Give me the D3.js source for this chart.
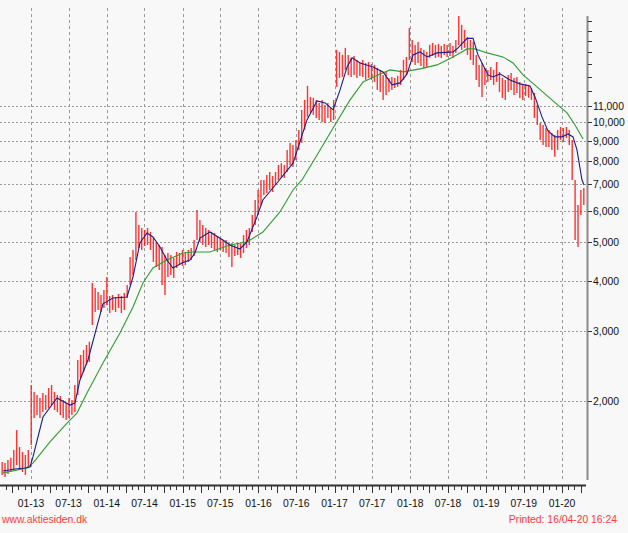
<!DOCTYPE html>
<html><head><meta charset="utf-8">
<script src="https://cdn.jsdelivr.net/npm/d3@7"></script>
<style>
html,body{margin:0;padding:0;background:#f8f8f8;}
svg{display:block;}
</style></head>
<body>
<svg id="chart" width="628" height="533"></svg>
<script>
// ---------- DATA ----------
const barStart = "2012-08-15";   // first bar, one bar every 14 days
const barStepDays = 14;
const highs = [1405,1397,1422,1440,1507,1691,1533,1489,1464,1507,
2194,2108,2071,2035,2096,2071,2156,2194,2108,2071,
2059,2012,1977,2035,2012,2194,2535,2609,2685,2764,
2817,3955,3842,3755,3690,3798,4095,3669,3690,3648,
3712,3669,3733,3909,4597,4786,5963,5531,5436,5373,
5436,5311,5130,5013,4926,4870,4650,4704,4650,4571,
4731,4704,4786,4731,4786,4842,5071,6032,5693,5531,
5436,5373,5311,5281,5190,5130,5071,5071,4984,4984,
4926,4984,4956,5220,5373,5436,5860,6391,6771,7173,
7173,7384,7514,7342,7514,7824,7904,7824,8534,8887,
8784,9042,9581,10754,11394,12355,11594,11528,11394,11199,
11394,11070,11199,10943,11394,15212,15036,14779,15390,14779,
14525,14694,14358,14192,14358,14110,14192,14030,13949,13710,
13551,13165,13396,12940,13014,12940,13090,13551,14358,14609,
17275,16117,15658,15930,15390,15212,15036,15658,15840,15658,
15750,15568,15750,15658,15840,15568,16117,18515,17577,17077,
16400,16117,15930,14779,13949,14110,13710,13551,13789,13551,
14192,13396,12940,12791,13165,13320,12940,13014,12644,12427,
12500,12427,12213,11866,11070,9975,9861,9691,9581,9415,
9307,9581,9747,9691,9747,9581,9042,7173,6209,6771,6849];
const lows = [1304,1289,1312,1327,1342,1382,1342,1327,1304,1358,
1551,1812,1844,1812,1876,1898,1920,1954,1898,1876,
1844,1812,1792,1812,1844,1876,2071,2284,2365,2463,
2506,3103,3345,3384,3345,3423,3483,3326,3384,3345,
3423,3326,3384,3627,3909,4142,4518,4842,4786,4898,
4926,4786,4466,4339,4263,3909,3690,4095,4142,4071,
4314,4389,4364,4389,4466,4518,4623,5071,5013,4926,
4870,4926,4842,4786,4731,4786,4731,4704,4597,4339,
4623,4650,4571,4704,4842,4926,5311,5531,5860,6209,
6578,6655,6771,6693,6969,7173,7257,7257,7514,7824,
7734,8042,8534,8887,9581,10328,10570,10448,10268,10150,
10033,9975,10268,10033,10150,12284,12940,13014,13551,13165,
13014,13165,12940,13090,13014,12791,12940,12791,12644,12073,
11934,11394,11729,11934,12073,12213,12284,12427,12791,13165,
14358,14192,13949,14110,13869,13710,13789,14525,14694,14525,
14609,14525,14779,14609,14694,14525,14950,15658,15212,15390,
14779,14358,13949,12791,12284,11594,12427,12644,12791,12427,
12644,11934,11528,11394,11934,12073,11729,11866,11528,11394,
11662,11528,11394,10268,9861,9042,8784,8683,8683,8534,
8208,8534,9042,8938,9147,8784,7173,5071,4870,5860,6209];

// short moving average (blue): [decimal year, value]
const shortMA = [[2012.631,1335],[2012.789,1350],[2012.921,1358],[2012.987,1366],[2013.026,1448],
[2013.158,1823],[2013.343,2035],[2013.514,1954],[2013.580,1977],[2013.646,2258],[2013.751,2535],
[2013.949,3507],[2014.081,3627],[2014.266,3648],[2014.345,4095],[2014.437,4984],[2014.529,5281],
[2014.608,5160],[2014.701,4870],[2014.793,4518],[2014.872,4314],[2014.991,4441],[2015.096,4518],
[2015.162,4704],[2015.228,5130],[2015.360,5311],[2015.531,5071],[2015.623,4926],[2015.755,4814],
[2015.847,5013],[2015.979,5792],[2016.058,6391],[2016.243,7050],[2016.454,7904],[2016.638,10150],
[2016.770,11330],[2016.876,11199],[2016.981,10754],[2017.073,12073],[2017.166,13789],[2017.231,14525],
[2017.337,14110],[2017.508,13789],[2017.640,13396],[2017.759,12427],[2017.864,12571],[2017.957,13242],
[2018.036,14779],[2018.128,15036],[2018.220,14609],[2018.352,14950],[2018.563,15036],[2018.629,15390],
[2018.748,16260],[2018.827,16260],[2018.892,14779],[2018.958,13949],[2019.024,13165],[2019.090,13014],
[2019.182,13242],[2019.314,12791],[2019.446,12500],[2019.578,12355],[2019.644,11594],[2019.736,10328],
[2019.815,9524],[2019.907,9200],[2020.000,9200],[2020.079,9361],[2020.145,9200],[2020.197,8534],
[2020.263,7173],[2020.290,6969]];

// long moving average (green): [decimal year, value]
const longMA = [[2012.631,1320],[2012.947,1358],[2013.026,1397],[2013.250,1579],[2013.475,1761],
[2013.606,1865],[2013.738,2096],[2013.949,2492],[2014.173,2963],[2014.345,3443],[2014.476,3955],
[2014.608,4314],[2014.793,4518],[2015.004,4704],[2015.136,4731],[2015.360,4731],[2015.623,4926],
[2015.847,5013],[2016.058,5311],[2016.282,5963],[2016.454,6771],[2016.572,7173],[2016.810,8534],
[2016.981,9691],[2017.205,11394],[2017.377,12644],[2017.601,13242],[2017.732,13551],[2017.904,13396],
[2018.128,13630],[2018.352,13949],[2018.563,14609],[2018.748,15300],[2018.853,15300],[2019.011,14950],
[2019.222,14609],[2019.354,14110],[2019.486,13165],[2019.670,12284],[2019.881,11330],[2020.066,10570],
[2020.171,9861],[2020.277,9095]];

const yLabelTicks = [2000,3000,4000,5000,6000,7000,8000,9000,10000,11000];
const yMinorTicks = [12000,13000,14000,15000,16000,17000,18000];
const xLabelDates = ["2013-01","2013-07","2014-01","2014-07","2015-01","2015-07","2016-01","2016-07",
  "2017-01","2017-07","2018-01","2018-07","2019-01","2019-07","2020-01"];
const siteText = "www.aktiesiden.dk";
const printedText = "Printed: 16/04-20 16:24";

// ---------- HELPERS ----------
const parseDay = d3.timeParse("%Y-%m-%d");
const parseMonth = d3.timeParse("%Y-%m");
function fromYear(yf){
  const y0 = Math.floor(yf);
  const a = new Date(y0,0,1), b = new Date(y0+1,0,1);
  return new Date(+a + (yf-y0)*(b-a));
}

// ---------- SCALES ----------
const x = d3.scaleTime().domain([new Date(2013,0,1), new Date(2020,0,1)]).range([31, 562]);
const y = d3.scaleLog().domain([2000, 11000]).range([401, 106]);

const svg = d3.select("#chart");
svg.append("rect").attr("width",628).attr("height",533).attr("fill","#f8f8f8");

const plotLeft = 0, plotRight = 587, plotTop = 8, plotBottom = 480;
const font = "'Liberation Sans', Arial, sans-serif";
const fmtX = d3.timeFormat("%m-%y");

// grid - horizontal
svg.append("g").selectAll("line").data(yLabelTicks).join("line")
  .attr("x1",plotLeft).attr("x2",plotRight)
  .attr("y1",d=>Math.round(y(d))+0.5).attr("y2",d=>Math.round(y(d))+0.5)
  .attr("stroke","#9a9a9a").attr("stroke-width",1).attr("stroke-dasharray","2,2");

// grid - vertical
const xDates = xLabelDates.map(parseMonth);
svg.append("g").selectAll("line").data(xDates).join("line")
  .attr("x1",d=>Math.round(x(d))+0.5).attr("x2",d=>Math.round(x(d))+0.5)
  .attr("y1",plotTop).attr("y2",plotBottom)
  .attr("stroke","#9a9a9a").attr("stroke-width",1).attr("stroke-dasharray","3,3");

// bars
const bars = highs.map((h,i)=>({date:d3.timeDay.offset(parseDay(barStart), i*barStepDays), high:h, low:lows[i]}));
svg.append("g").selectAll("line").data(bars).join("line")
  .attr("x1",d=>x(d.date)).attr("x2",d=>x(d.date))
  .attr("y1",d=>y(d.high)).attr("y2",d=>y(d.low))
  .attr("stroke","#ff1010").attr("stroke-width",1.4).attr("stroke-opacity",0.85);

// moving averages
const line = d3.line().x(d=>x(fromYear(d[0]))).y(d=>y(d[1]));
svg.append("path").attr("d",line(longMA)).attr("fill","none").attr("stroke","#2e9e2e").attr("stroke-width",1.1);
svg.append("path").attr("d",line(shortMA)).attr("fill","none").attr("stroke","#1c1c8a").attr("stroke-width",1.1);

// right axis
svg.append("line").attr("x1",587.5).attr("x2",587.5).attr("y1",16).attr("y2",480)
  .attr("stroke","#8a8a8a").attr("stroke-width",2);
svg.append("g").selectAll("line").data(yLabelTicks.concat(yMinorTicks)).join("line")
  .attr("x1",588).attr("x2",592)
  .attr("y1",d=>Math.round(y(d))+0.5).attr("y2",d=>Math.round(y(d))+0.5)
  .attr("stroke","#333").attr("stroke-width",1);
svg.append("g").selectAll("text").data(yLabelTicks).join("text")
  .attr("transform",d=>`translate(593,${y(d)+4}) scale(0.9,1)`)
  .attr("font-family",font).attr("font-size",11.5).attr("fill","#111")
  .text(d=>d3.format(",")(d));

// bottom axis
svg.append("line").attr("x1",0).attr("x2",586).attr("y1",485.5).attr("y2",485.5)
  .attr("stroke","#333").attr("stroke-width",2);
const months = d3.timeMonth.range(new Date(2012,8,1), new Date(2020,4,1));
svg.append("g").selectAll("line").data(months).join("line")
  .attr("x1",d=>Math.round(x(d))+0.5).attr("x2",d=>Math.round(x(d))+0.5)
  .attr("y1",486).attr("y2",d=> d.getMonth()%3===0 ? 493 : 490)
  .attr("stroke","#333").attr("stroke-width",1);
svg.append("g").selectAll("text").data(xDates).join("text")
  .attr("transform",d=>`translate(${x(d)},507) scale(0.9,1)`)
  .attr("text-anchor","middle")
  .attr("font-family",font).attr("font-size",11.5).attr("fill","#111")
  .text(d=>fmtX(d));

// footer
svg.append("text").attr("transform","translate(2,523) scale(0.9,1)")
  .attr("font-family",font).attr("font-size",11.5).attr("fill","#ff3b3b").text(siteText);
svg.append("text").attr("transform","translate(617,523) scale(0.9,1)").attr("text-anchor","end")
  .attr("font-family",font).attr("font-size",11.5).attr("fill","#ff3b3b").text(printedText);
</script>
</body></html>
